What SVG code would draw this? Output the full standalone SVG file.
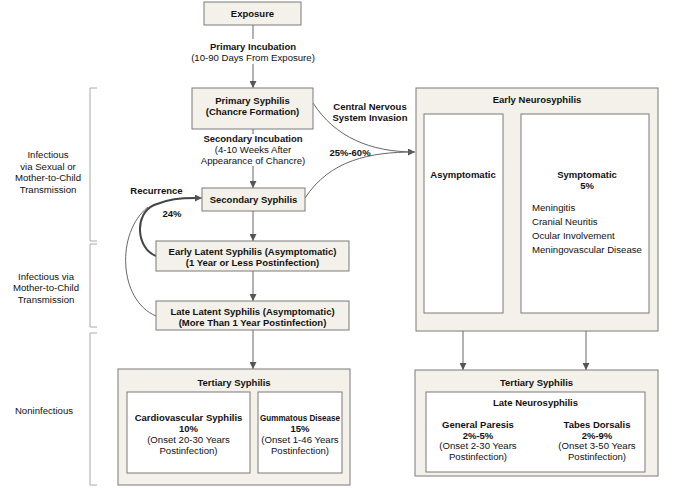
<svg xmlns="http://www.w3.org/2000/svg" width="675" height="488" viewBox="0 0 675 488">
<defs>
<marker id="arr" viewBox="0 0 10 10" refX="10" refY="5" markerWidth="7" markerHeight="7" markerUnits="userSpaceOnUse" orient="auto">
<path d="M0,0 L10,5 L0,10 Z" fill="#555"/>
</marker>
<style>
.node{fill:#f3f1e9;stroke:#7a7a7a;stroke-width:1}
.inner{fill:#ffffff;stroke:#7a7a7a;stroke-width:1}
.conn{fill:none;stroke:#666;stroke-width:1}
.thick{fill:none;stroke:#444;stroke-width:2}
.brk{fill:none;stroke:#aaa;stroke-width:1}
text{font-family:"Liberation Sans",Arial,sans-serif;font-size:9.6px;fill:#111}
.b{font-weight:bold;font-size:9.5px}
.c{text-anchor:middle}
</style>
</defs>
<rect width="675" height="488" fill="#ffffff"/>

<g id="brackets">
<path class="brk" d="M97,88 H90 V241 H97"/>
<path class="brk" d="M97,244 H90 V327 H97"/>
<path class="brk" d="M97,333 H90 V485 H97"/>
<text class="c" x="48" y="158">Infectious</text>
<text class="c" x="48" y="169.5">via Sexual or</text>
<text class="c" x="48" y="181">Mother-to-Child</text>
<text class="c" x="48" y="192.5">Transmission</text>
<text class="c" x="46" y="279.5">Infectious via</text>
<text class="c" x="46" y="291">Mother-to-Child</text>
<text class="c" x="46" y="302.5">Transmission</text>
<text class="c" x="44" y="413.5">Noninfectious</text>
</g>

<g id="connectors">
<path class="conn" d="M253,25 V39"/>
<path class="conn" d="M253,64 V88" marker-end="url(#arr)"/>
<path class="conn" d="M253,129 V134"/>
<path class="conn" d="M253,166 V188" marker-end="url(#arr)"/>
<path class="conn" d="M253,211 V241" marker-end="url(#arr)"/>
<path class="conn" d="M253,271 V301" marker-end="url(#arr)"/>
<path class="conn" d="M253,330 V369" marker-end="url(#arr)"/>
<path class="conn" d="M313,103 C335,137 370,152 415,152" marker-end="url(#arr)"/>
<path class="conn" d="M305,198 C330,160 370,152 414,152"/>
<path class="conn" d="M503,175 H521" marker-end="url(#arr)"/>
<path class="conn" d="M463,313 V370" marker-end="url(#arr)"/>
<path class="conn" d="M586,313 V370" marker-end="url(#arr)"/>
<path class="thick" d="M156,256 C136,248 134,214 154,205 C168,199 180,198 196,198"/>
<path class="conn" d="M195,198 H202" marker-end="url(#arr)"/>
<path class="conn" d="M156,316 C118,300 116,232 148,207"/>
<text class="b c" x="370" y="109.5">Central Nervous</text>
<text class="b c" x="370" y="120.5">System Invasion</text>
<text class="b c" x="350" y="155.5">25%-60%</text>
<text class="b c" x="156.5" y="193.5">Recurrence</text>
<text class="b c" x="172" y="216.5">24%</text>
<text class="b c" x="253" y="49.5">Primary Incubation</text>
<text class="c" x="253" y="60.5">(10-90 Days From Exposure)</text>
<text class="b c" x="253" y="141.5">Secondary Incubation</text>
<text class="c" x="253" y="152.5">(4-10 Weeks After</text>
<text class="c" x="253" y="163.5">Appearance of Chancre)</text>
</g>

<g id="exposure">
<rect class="node" x="204" y="2" width="97" height="23"/>
<text class="b c" x="252.5" y="17">Exposure</text>
</g>

<g id="primary">
<rect class="node" x="192" y="88" width="121" height="41"/>
<text class="b c" x="252.5" y="103.5">Primary Syphilis</text>
<text class="b c" x="252.5" y="114.5">(Chancre Formation)</text>
</g>

<g id="secondary">
<rect class="node" x="202" y="188" width="103" height="23"/>
<text class="b c" x="253.5" y="202.5">Secondary Syphilis</text>
</g>

<g id="early-latent">
<rect class="node" x="156" y="241" width="193" height="30"/>
<text class="b c" x="252.5" y="254.5">Early Latent Syphilis (Asymptomatic)</text>
<text class="b c" x="252.5" y="265.5">(1 Year or Less Postinfection)</text>
</g>

<g id="late-latent">
<rect class="node" x="156" y="301" width="193" height="29"/>
<text class="b c" x="252.5" y="314.5">Late Latent Syphilis (Asymptomatic)</text>
<text class="b c" x="252.5" y="325.5">(More Than 1 Year Postinfection)</text>
</g>

<g id="early-neurosyphilis">
<rect class="node" x="416" y="88" width="242" height="243"/>
<text class="b c" x="537" y="102.5">Early Neurosyphilis</text>
<rect class="inner" x="424" y="114" width="79" height="199"/>
<text class="b c" x="463" y="177.5">Asymptomatic</text>
<rect class="inner" x="521" y="114" width="128" height="199"/>
<text class="b c" x="587" y="177.5">Symptomatic</text>
<text class="b c" x="587" y="188.5">5%</text>
<text x="532" y="210.5">Meningitis</text>
<text x="532" y="224.5">Cranial Neuritis</text>
<text x="532" y="238.5">Ocular Involvement</text>
<text x="532" y="252.5">Meningovascular Disease</text>
</g>

<g id="tertiary-left">
<rect class="node" x="118" y="369" width="232" height="116"/>
<text class="b c" x="234" y="385.5">Tertiary Syphilis</text>
<rect class="inner" x="127" y="392" width="123" height="81"/>
<text class="b c" x="188.5" y="420.5">Cardiovascular Syphilis</text>
<text class="b c" x="188.5" y="431.5">10%</text>
<text class="c" x="188.5" y="443">(Onset 20-30 Years</text>
<text class="c" x="188.5" y="454">Postinfection)</text>
<rect class="inner" x="258" y="392" width="84" height="81"/>
<text class="b c" x="300" y="420.5" textLength="80" lengthAdjust="spacingAndGlyphs">Gummatous Disease</text>
<text class="b c" x="300" y="431.5">15%</text>
<text class="c" x="300" y="443">(Onset 1-46 Years</text>
<text class="c" x="300" y="454">Postinfection)</text>
</g>

<g id="tertiary-right">
<rect class="node" x="415" y="370" width="243" height="106"/>
<text class="b c" x="536.5" y="385.5">Tertiary Syphilis</text>
<rect class="inner" x="426" y="392" width="219" height="80"/>
<text class="b c" x="535.5" y="405.5">Late Neurosyphilis</text>
<text class="b c" x="478" y="427.5">General Paresis</text>
<text class="b c" x="478" y="438.5">2%-5%</text>
<text class="c" x="478" y="449">(Onset 2-30 Years</text>
<text class="c" x="478" y="459.5">Postinfection)</text>
<text class="b c" x="597" y="427.5">Tabes Dorsalis</text>
<text class="b c" x="597" y="438.5">2%-9%</text>
<text class="c" x="597" y="449">(Onset 3-50 Years</text>
<text class="c" x="597" y="459.5">Postinfection)</text>
</g>
</svg>
